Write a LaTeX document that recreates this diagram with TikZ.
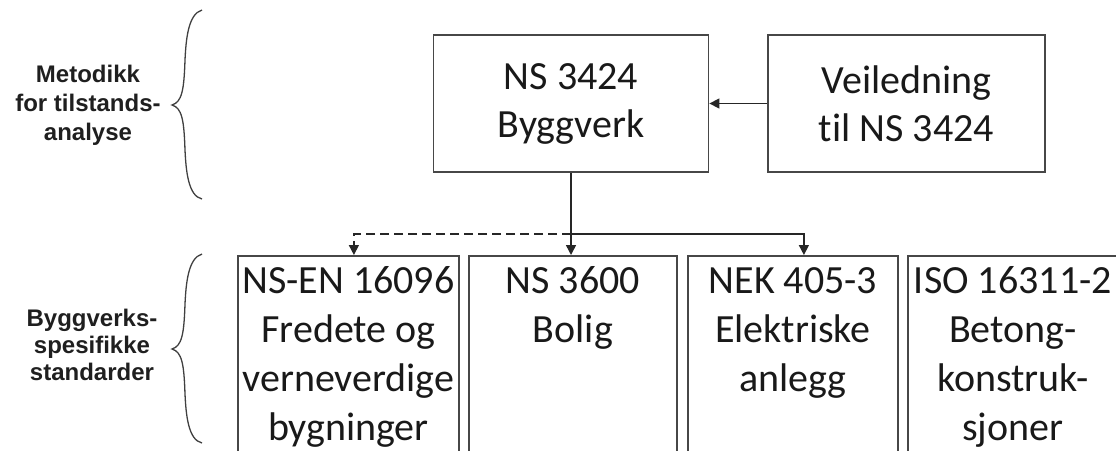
\documentclass[tikz,border=0pt]{standalone}
\usepackage{fontspec}
\setmainfont{Carlito}[Ligatures={NoCommon,NoRequired}]
\newfontfamily\labelfont{Liberation Sans}
\usetikzlibrary{arrows.meta,calc}
\begin{document}
\begin{tikzpicture}[x=1pt,y=-1pt,
  box/.style={draw=black!72, line width=1.8pt, inner sep=0pt, text=black!90},
  boxtext/.style={font=\fontsize{40}{48}\selectfont, align=center},
  conn/.style={draw=black!85, line width=1.5pt},
  arr/.style={conn, -{Triangle[length=10pt,width=10pt]}},
  side/.style={font=\labelfont\bfseries\fontsize{24}{29}\selectfont, align=center, text=black!88},
  curly/.pic={\draw[black!75, line width=1.3pt]
    (202,10) .. controls (188,14) and (186,40) .. (185,60)
    .. controls (184,90) and (182,102) .. (172,105)
    .. controls (182,108) and (184,120) .. (185,150)
    .. controls (186,170) and (188,196) .. (202,199);}
]
\useasboundingbox (0,0) rectangle (1116,450);
\clip (0,0) rectangle (1116,450);

% side labels and their braces
\node[side] (method) at (88,105) {Metodikk\\for tilstands-\\analyse};
\node[side, font=\labelfont\bfseries\fontsize{24}{27}\selectfont] (specific) at (92,345) {Byggverks-\\spesifikke\\standarder};
\pic at (0,0) {curly};
\pic at (0,244) {curly};

% general standard and its guide
\node[box, boxtext, minimum width=275pt, minimum height=137pt] (ns) at (571,103.5) {NS 3424\\Byggverk};
\node[box, boxtext, minimum width=277pt, minimum height=137pt] (veil) at (906.5,103.5) {Veiledning\\til NS 3424};

% building-specific standards (boxes run past the lower edge)
\newcommand\stdtext[2]{\parbox[t][215pt][t]{#1}{\centering\fontsize{40}{49}\selectfont\rule{0pt}{38pt}#2}}
\node[box, anchor=north west] (b1) at (237,255) {\stdtext{221pt}{NS-EN 16096\\Fredete og\\verneverdige\\bygninger}};
\node[box, anchor=north west] (b2) at (468,255) {\stdtext{208pt}{NS 3600\\Bolig}};
\node[box, anchor=north west] (b3) at (687,255) {\stdtext{210pt}{NEK 405-3\\Elektriske\\anlegg}};
\node[box, anchor=north west] (b4) at (907,255) {\stdtext{210pt}{ISO 16311-2\\Betong-\\konstruk-\\sjoner}};

% connectors
\draw[arr] (veil.west) -- (ns.east);
\coordinate (split) at ($(ns.south)+(0,61)$);
\draw[arr] (ns.south) -- (ns.south |- b2.north);
\draw[arr] (split) -| ([xshift=11pt]b3.north);
\draw[arr, dash pattern=on 9pt off 5pt] (split) -| ([xshift=5.5pt]b1.north);
\end{tikzpicture}
\end{document}
